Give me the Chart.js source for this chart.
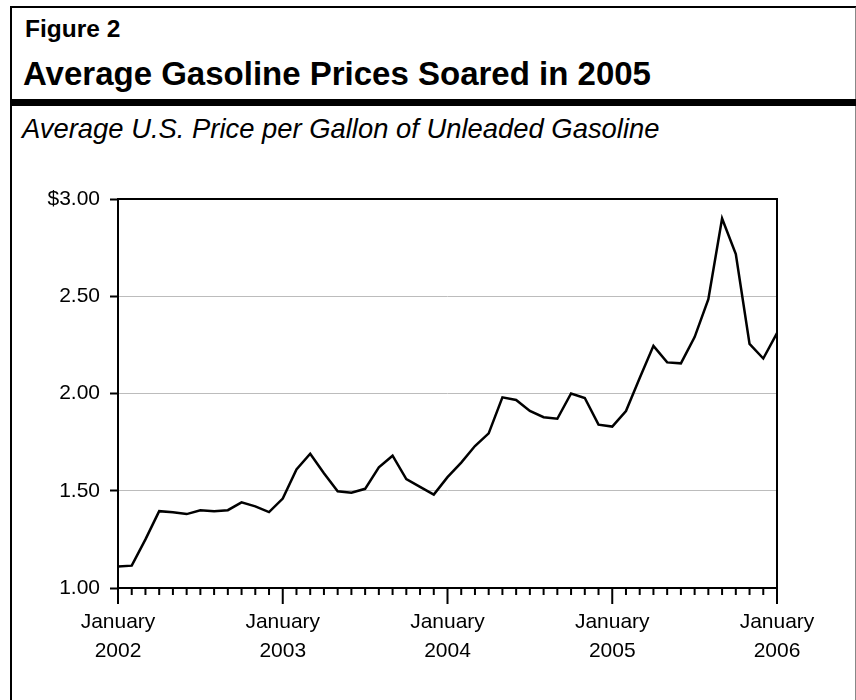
<!DOCTYPE html>
<html>
<head>
<meta charset="utf-8">
<script src="https://cdn.jsdelivr.net/npm/chart.js@4.4.0/dist/chart.umd.min.js"></script>
<style>
    html, body { margin: 0; padding: 0; background: #fff; width: 856px; height: 700px; overflow: hidden; }
    body { position: relative; font-family: "Liberation Sans", Arial, Helvetica, sans-serif; color: #000; }
    .marco { position: absolute; left: 10px; top: 6px; width: 843px; height: 720px; border-left: 2px solid #000; border-top: 2px solid #000; border-right: 2px solid #888; }
    .barra { position: absolute; left: 11px; top: 99px; width: 845px; height: 7px; background: #000; }
    .txt { position: absolute; white-space: nowrap; line-height: 1; }
    #figura { left: 25px; top: 16.5px; font-size: 24.5px; font-weight: bold; }
    #titulo { left: 23px; top: 56.5px; font-size: 33px; font-weight: bold; }
    #subtitulo { left: 22px; top: 115px; font-size: 27.4px; font-style: italic; }
    #grafico { position: absolute; left: 0; top: 160px; }
</style>
</head>
<body>
<div class="marco"></div>
<div class="txt" id="figura">Figure 2</div>
<div class="txt" id="titulo">Average Gasoline Prices Soared in 2005</div>
<div class="barra"></div>
<div class="txt" id="subtitulo">Average U.S. Price per Gallon of Unleaded Gasoline</div>
<canvas id="grafico" width="856" height="540"></canvas>

<script>
// Precio promedio mensual, enero 2002 a enero 2006 (49 meses)
const anios = ['2002', '2003', '2004', '2005', '2006'];
const precios = [
    1.11, 1.115, 1.25, 1.395, 1.39, 1.38, 1.40, 1.395, 1.40, 1.44, 1.42, 1.39,
    1.46, 1.61, 1.69, 1.59, 1.497, 1.49, 1.51, 1.62, 1.68, 1.56, 1.52, 1.48,
    1.57, 1.645, 1.73, 1.795, 1.98, 1.967, 1.91, 1.878, 1.87, 2.00, 1.977, 1.84,
    1.83, 1.91, 2.08, 2.245, 2.16, 2.155, 2.29, 2.485, 2.90, 2.717, 2.255, 2.18,
    2.31
];
const ticksY = [1.00, 1.50, 2.00, 2.50, 3.00];

const puntos = precios.map((v, i) => ({ x: i, y: v }));
const fuente = { family: '"Liberation Sans", Arial, sans-serif', size: 21, lineHeight: 1.38 };

// Marco del area de trazado y marcas mensuales del eje x
const marcoPlugin = {
    id: 'marco',
    afterDraw(chart) {
        const ctx = chart.ctx;
        const a = chart.chartArea;
        const sx = chart.scales.x;
        ctx.save();
        ctx.strokeStyle = '#000';
        ctx.lineWidth = 2;
        ctx.strokeRect(a.left, a.top, a.right - a.left, a.bottom - a.top);
        ctx.beginPath();
        for (let i = 0; i < precios.length; i++) {
            const x = sx.getPixelForValue(i);
            const largo = i % 12 === 0 ? 16 : 7;
            ctx.moveTo(x, a.bottom);
            ctx.lineTo(x, a.bottom + largo);
        }
        ctx.stroke();
        ctx.restore();
    }
};

new Chart(document.getElementById('grafico').getContext('2d'), {
    type: 'line',
    data: {
        datasets: [{
            data: puntos,
            borderColor: '#000',
            borderWidth: 2.5,
            pointRadius: 0,
            tension: 0,
            fill: false
        }]
    },
    options: {
        responsive: false,
        animation: false,
        layout: { padding: { top: 39, right: 79, left: 0, bottom: 0 } },
        plugins: { legend: { display: false }, tooltip: { enabled: false } },
        scales: {
            x: {
                type: 'linear',
                min: 0,
                max: precios.length - 1,
                border: { display: false },
                grid: { drawOnChartArea: false, drawTicks: false },
                ticks: {
                    stepSize: 12,
                    autoSkip: false,
                    maxRotation: 0,
                    padding: 20,
                    color: '#000',
                    font: fuente,
                    callback: v => ['January', anios[v / 12]]
                },
                afterFit: s => { s.height = 112; }
            },
            y: {
                min: 1,
                max: 3,
                border: { display: false },
                afterBuildTicks: s => { s.ticks = ticksY.map(v => ({ value: v })); },
                grid: {
                    color: c => (c.tick && (c.tick.value === 1 || c.tick.value === 3)) ? 'rgba(0,0,0,0)' : '#bcbcbc',
                    lineWidth: 1,
                    tickColor: '#000',
                    tickWidth: 2,
                    tickLength: 8
                },
                ticks: {
                    padding: 10,
                    color: '#000',
                    font: fuente,
                    callback: v => (v === 3 ? '$' : '') + v.toFixed(2)
                },
                afterFit: s => { s.width = 118; }
            }
        }
    },
    plugins: [marcoPlugin]
});
</script>
</body>
</html>
